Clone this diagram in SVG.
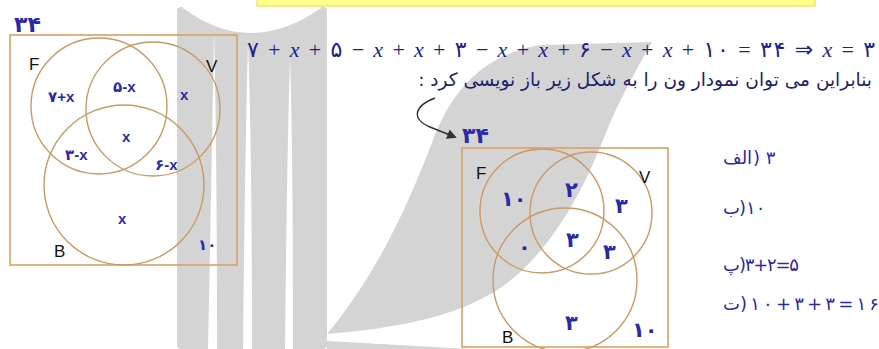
<svg xmlns="http://www.w3.org/2000/svg" width="879" height="349" viewBox="0 0 879 349">
<style>
.wm{fill:#d4d4d4}
.wh{fill:#ffffff}
.box{fill:none;stroke:#d9a15f;stroke-width:1.6}
.cir{fill:none;stroke:#c99a63;stroke-width:1.4}
.lab{font-family:"Liberation Sans","DejaVu Sans",sans-serif;font-size:17px;fill:#111}
.val{font-family:"Liberation Sans","DejaVu Sans",sans-serif;font-size:15px;font-weight:bold;fill:#2a2aa8}
.big{font-family:"DejaVu Sans",sans-serif;font-size:21px;font-weight:bold;fill:#2a2aa8}
.ttl{font-family:"DejaVu Sans",sans-serif;font-size:22px;font-weight:bold;fill:#2a2aa8}
.eq{font-family:"Liberation Serif","DejaVu Sans",serif;font-size:22px;fill:#1e1e8c}
.fa{font-family:"DejaVu Sans",sans-serif;font-size:18.5px;fill:#1e1e6e}
.ans{font-family:"DejaVu Sans",sans-serif;font-size:18px;fill:#2a2aa8}
</style>
<defs>
<marker id="ah" viewBox="0 0 10 10" refX="8" refY="5" markerWidth="7" markerHeight="7" orient="auto"><path d="M0,0 L10,5 L0,10 Z" fill="#333"/></marker>
</defs>
<rect width="879" height="349" fill="#ffffff"/>
<g id="watermark">
<rect class="wm" x="177" y="7" width="150" height="342" rx="4"/>
<path class="wh" d="M183,0 L183,8 Q250,58 321,8 L321,0 Z"/>
<path class="wh" d="M214,30 Q217,150 217,349 L208,349 Q212,150 214,30 Z"/>
<path class="wh" d="M248,42 Q252,150 252,349 L243,349 Q245,150 248,42 Z"/>
<path class="wh" d="M290,58 Q293,150 293,349 L285,349 Q287,150 290,58 Z"/>
<path class="wm" d="M327,334 C380,270 410,200 433,140 C450,95 480,55 540,45 L652,42 C630,80 615,110 605,135 C580,200 540,270 483,298 C450,316 400,328 327,334 Z"/>
<path class="wm" d="M327,341 L470,349 L327,349 Z"/>
</g>
<rect x="257" y="-5" width="558" height="11" fill="#ffff8c" stroke="#e8dc30" stroke-width="1"/>
<g id="venn-left">
<text class="ttl" x="14" y="32">۳۴</text>
<rect class="box" x="10" y="35" width="227" height="230"/>
<circle class="cir" cx="99" cy="106" r="68"/>
<circle class="cir" cx="153" cy="109" r="67"/>
<circle class="cir" cx="124" cy="185" r="80"/>
<text class="lab" x="29" y="70">F</text>
<text class="lab" x="206" y="72">V</text>
<text class="lab" x="54" y="257">B</text>
<text class="val" x="48" y="102">۷+x</text>
<text class="val" x="113" y="92">۵-x</text>
<text class="val" x="180" y="100">x</text>
<text class="val" x="122" y="142">x</text>
<text class="val" x="65" y="160">۳-x</text>
<text class="val" x="155" y="170">۶-x</text>
<text class="val" x="118" y="224">x</text>
<text class="val" x="198" y="250">۱۰</text>
</g>
<g id="equation">
<text class="eq" x="247" y="57" textLength="628" lengthAdjust="spacing">۷ + <tspan font-style="italic">x</tspan> + ۵ − <tspan font-style="italic">x</tspan> + <tspan font-style="italic">x</tspan> + ۳ − <tspan font-style="italic">x</tspan> + <tspan font-style="italic">x</tspan> + ۶ − <tspan font-style="italic">x</tspan> + <tspan font-style="italic">x</tspan> + ۱۰ = ۳۴ ⇒ <tspan font-style="italic">x</tspan> = ۳</text>
<text class="fa" x="872" y="86" direction="rtl" text-anchor="start">بنابراین می توان نمودار ون را به شکل زیر باز نویسی کرد :</text>
</g>
<g id="connectors">
<path d="M435,98 C414,106 411,119 430,127 L455,137" fill="none" stroke="#333" stroke-width="1.4" marker-end="url(#ah)"/>
</g>
<g id="venn-right">
<text class="ttl" x="462" y="143">۳۴</text>
<rect class="box" x="462" y="148" width="206" height="199"/>
<circle class="cir" cx="542" cy="211" r="62"/>
<circle class="cir" cx="591" cy="213" r="61"/>
<circle class="cir" cx="565" cy="280" r="72"/>
<text class="lab" x="476" y="179">F</text>
<text class="lab" x="639" y="183">V</text>
<text class="lab" x="502" y="343">B</text>
<text class="big" x="501" y="206">۱۰</text>
<text class="big" x="565" y="197">۲</text>
<text class="big" x="615" y="213">۳</text>
<text class="big" x="566" y="247">۳</text>
<text class="big" x="603" y="259">۳</text>
<text class="big" x="518" y="254">۰</text>
<text class="big" x="565" y="330">۳</text>
<text class="big" x="632" y="337">۱۰</text>
</g>
<g id="answers">
<text class="ans" x="723" y="164">الف</text>
<text class="ans" x="753" y="164">) ۳</text>
<text class="ans" x="723" y="214">ب</text>
<text class="ans" x="739" y="214">)۱۰</text>
<text class="ans" x="723" y="271">پ</text>
<text class="ans" x="739" y="271" textLength="60" lengthAdjust="spacing">)۳+۲=۵</text>
<text class="ans" x="723" y="310">ت</text>
<text class="ans" x="740" y="310" textLength="139" lengthAdjust="spacing">)۱۰+۳+۳=۱۶</text>
</g>
</svg>
